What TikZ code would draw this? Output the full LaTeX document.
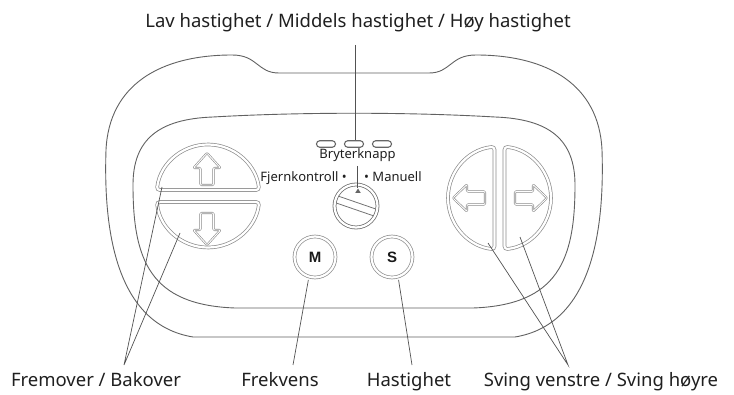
\documentclass[tikz,border=0pt]{standalone}
\usepackage{fontspec}
\setmainfont{Noto Sans}
\newfontfamily\keyfont{Liberation Sans}
\begin{document}
\begin{tikzpicture}[x=1pt,y=1pt,
  bodyline/.style={draw=black!62, line width=0.9pt},
  btnring/.style={draw=black!45, line width=0.7pt, double=white, double distance=2.2pt},
  dialring/.style={draw=black!55, line width=0.8pt, double=white, double distance=2.2pt},
  arrowshape/.style={draw=black!45, line width=0.6pt, double=white, double distance=0.9pt, line join=round, rounded corners=1pt},
  ledpill/.style={draw=black!60, line width=1.1pt, rounded corners=3.2pt, minimum width=19pt, minimum height=6.5pt, inner sep=0pt},
  keybtn/.style={btnring, circle, minimum size=41pt, inner sep=0pt, font=\keyfont\bfseries\fontsize{15}{17}\selectfont, text=black!90},
  leader/.style={draw=black!68, line width=0.7pt},
  biglabel/.style={font=\fontsize{18.5}{21}\selectfont, text=black!88, inner sep=0pt, anchor=base},
  smalllabel/.style={font=\fontsize{13}{15}\selectfont, text=black!88, inner sep=0pt, anchor=base},
]
\useasboundingbox (0,0) rectangle (734,-395);

% outer housing with the notch on top
\draw[bodyline] (279,-73) .. controls (257,-73) and (258,-55) .. (232,-55)
  .. controls (160,-55) and (109,-85) .. (106,-150)
  .. controls (103,-240) and (120,-325) .. (193,-337)
  -- (515,-337)
  .. controls (588,-325) and (605,-240) .. (602,-150)
  .. controls (599,-85) and (548,-55) .. (476,-55)
  .. controls (450,-55) and (451,-73) .. (429,-73) -- cycle;

% inner panel
\draw[bodyline] (213,-117) .. controls (300,-112) and (408,-112) .. (495,-117)
  .. controls (550,-119) and (575,-140) .. (575,-185)
  .. controls (575,-260) and (558,-305) .. (473,-308)
  -- (235,-308)
  .. controls (150,-305) and (133,-260) .. (133,-185)
  .. controls (133,-140) and (158,-119) .. (213,-117) -- cycle;

% forward / backward keys
\draw[btnring, rounded corners=3pt] (156.85,-190) arc[start angle=173.31, end angle=6.69, radius=51.5] -- cycle;
\draw[btnring, rounded corners=3pt] (156.85,-202) arc[start angle=186.69, end angle=353.31, radius=51.5] -- cycle;
\draw[arrowshape] (207,-153) -- (220.5,-168) -- (213.5,-168) -- (213.5,-185) -- (200.5,-185) -- (200.5,-168) -- (193.5,-168) -- cycle;
\draw[arrowshape] (207,-245) -- (220.5,-230) -- (213.5,-230) -- (213.5,-213) -- (200.5,-213) -- (200.5,-230) -- (193.5,-230) -- cycle;

% left / right keys
\draw[btnring, rounded corners=3pt] (494.5,-146.74) arc[start angle=95.57, end angle=264.43, radius=51.5] -- cycle;
\draw[btnring, rounded corners=3pt] (504.5,-249.26) arc[start angle=-84.43, end angle=84.43, radius=51.5] -- cycle;
\draw[arrowshape] (453,-198) -- (467,-184.5) -- (467,-191.5) -- (485,-191.5) -- (485,-204.5) -- (467,-204.5) -- (467,-211.5) -- cycle;
\draw[arrowshape] (547,-198) -- (533,-184.5) -- (533,-191.5) -- (515,-191.5) -- (515,-204.5) -- (533,-204.5) -- (533,-211.5) -- cycle;

% speed indicator lamps
\node[ledpill] (led1) at (326,-144) {};
\node[ledpill] (led2) at (354,-144) {};
\node[ledpill] (led3) at (382,-144) {};

% mode switch
\node[dialring, circle, minimum size=43pt, inner sep=0pt] (dial) at (356,-206) {};
\begin{scope}
  \clip (dial.center) circle (20.2);
  \draw[draw=black!55, line width=0.8pt, shift={(dial.center)}, rotate=-19]
    (-26,3.6) -- (26,3.6) (-26,-3.6) -- (26,-3.6);
\end{scope}
\fill[black!60] (358,-188.5) -- (360.8,-193) -- (355.2,-193) -- cycle;
\coordinate (ptr) at (357,-188.5);

% M and S keys
\node[keybtn] (mbtn) at (315,-257) {M};
\node[keybtn] (sbtn) at (392,-257) {S};

% labels
\node[biglabel] (title) at (358,-28) {Lav hastighet / Middels hastighet / Høy hastighet};
\node[smalllabel] (switch) at (357.5,-159) {Bryterknapp};
\node[smalllabel, anchor=base east] (remote) at (347,-181.5) {Fjernkontroll •};
\node[smalllabel, anchor=base west] (manual) at (364,-181.5) {• Manuell};
\node[biglabel] (fwd) at (96,-387) {Fremover / Bakover};
\node[biglabel] (freq) at (280,-387) {Frekvens};
\node[biglabel] (speed) at (409,-387) {Hastighet};
\node[biglabel] (turn) at (601,-387) {Sving venstre / Sving høyre};

% leader ends
\coordinate (titlefoot) at (355,-45);
\coordinate (switchfoot) at (357,-166);
\coordinate (upspot) at (162,-187);
\coordinate (downspot) at (180,-233);
\coordinate (fwdtip) at (124,-365);
\coordinate (freqtip) at (293,-365);
\coordinate (speedtip) at (412,-365);
\coordinate (leftspot) at (488,-243);
\coordinate (rightspot) at (520,-237);
\coordinate (turntip) at (568,-365);

% leader lines
\draw[leader] (titlefoot) -- (titlefoot |- led2.north);
\draw[leader] (switchfoot) -- (ptr);
\draw[leader] (upspot) -- (fwdtip) -- (downspot);
\draw[leader, shorten <=3pt] (mbtn.-107) -- (freqtip);
\draw[leader, shorten <=3pt] (sbtn.-73) -- (speedtip);
\draw[leader] (leftspot) -- (turntip) -- (rightspot);
\end{tikzpicture}
\end{document}
